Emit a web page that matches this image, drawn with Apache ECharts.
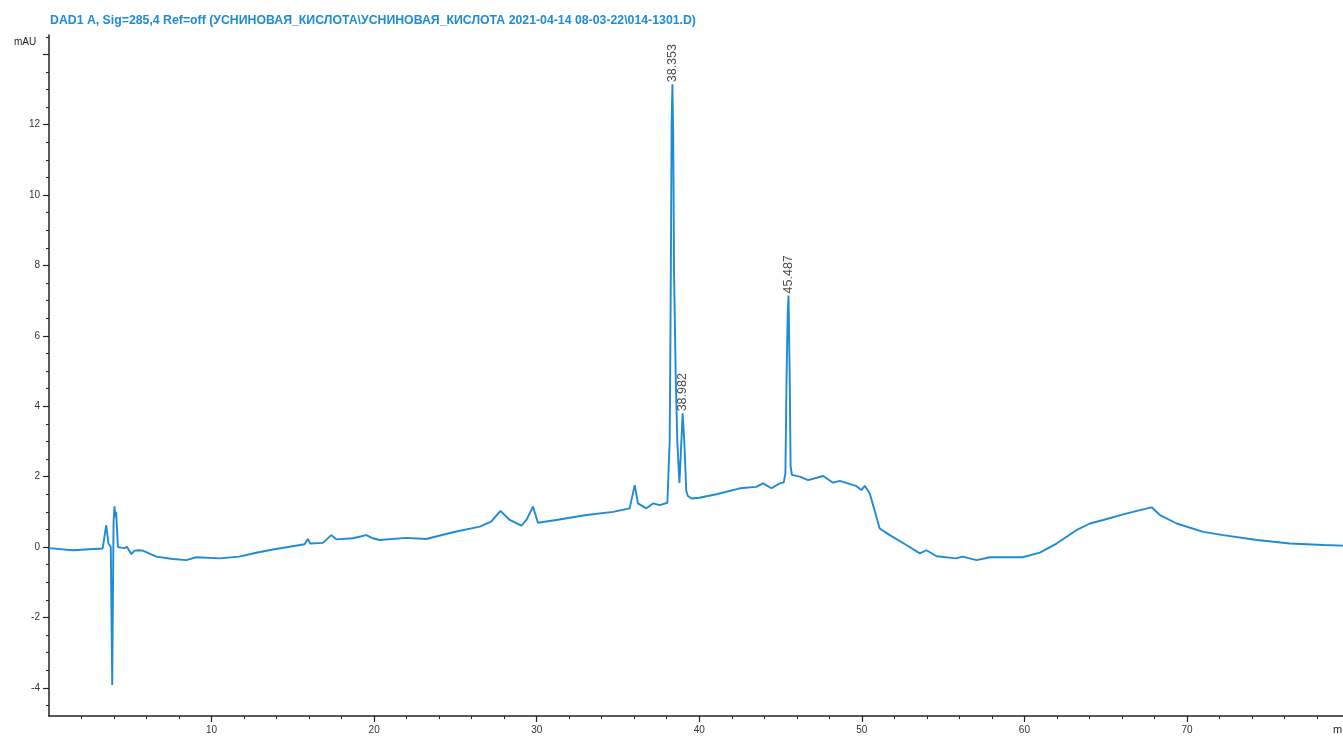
<!DOCTYPE html>
<html>
<head>
<meta charset="utf-8">
<script src="https://cdn.jsdelivr.net/npm/echarts@6/dist/echarts.min.js"></script>
<style>html,body{margin:0;padding:0;background:#fff;}#c{width:1343px;height:737px;}</style>
</head>
<body>
<div id="c"></div>
<script>
var titleText = 'DAD1 A, Sig=285,4 Ref=off (УСНИНОВАЯ_КИСЛОТА\\УСНИНОВАЯ_КИСЛОТА 2021-04-14 08-03-22\\014-1301.D)';
var yName = 'mAU';
var xName = 'min';

var times = [
  0.0, 1.46, 2.5, 3.3, 3.40, 3.52, 3.66, 3.80, 3.89, 3.97, 4.03, 4.08, 4.13, 4.24, 4.65, 4.79, 5.06, 5.26, 5.57, 5.77,
  6.6, 7.62, 8.44, 9.06, 10.5, 11.7, 12.75, 13.77, 14.8, 15.72, 15.93, 16.07, 16.85, 17.37, 17.67, 18.7,
  19.52, 19.93, 20.34, 21.98, 23.2, 24.85, 26.5, 27.2, 27.77, 28.34, 29.06, 29.37, 29.77, 30.08, 31.2,
  33.06, 34.7, 35.72, 36.03, 36.23, 36.75, 37.16, 37.57, 38.04, 38.12, 38.18, 38.22, 38.26, 38.30, 38.35,
  38.40, 38.45, 38.55, 38.65, 38.78, 38.88, 38.98, 39.08, 39.20, 39.30, 39.52, 40.0, 41.06, 42.5, 43.5,
  43.93, 44.44, 44.95, 45.20, 45.30, 45.37, 45.44, 45.49, 45.56, 45.62, 45.70, 45.77, 46.18, 46.7, 47.62,
  48.23, 48.65, 49.67, 49.98, 50.18, 50.49, 51.1, 51.72, 52.74, 53.57, 53.98, 54.6, 55.8, 56.2, 57.06,
  57.88, 58.5, 59.9, 60.95, 61.98, 63.2, 64.03, 64.85, 66.08, 67.1, 67.83, 68.34, 69.37, 71.0, 72.24,
  74.3, 76.34, 78.4, 79.6
];
var mau = [
  -0.03, -0.09, -0.06, -0.04, 0.0, 0.62, 0.1, 0.0, -3.92, 0.7, 1.16, 0.85, 1.0, 0.0, -0.03, 0.01, -0.2, -0.1, -0.09, -0.1,
  -0.27, -0.34, -0.37, -0.29, -0.32, -0.27, -0.16, -0.07, 0.01, 0.08, 0.23, 0.1, 0.12, 0.34, 0.22, 0.25,
  0.34, 0.25, 0.2, 0.26, 0.23, 0.42, 0.58, 0.72, 1.03, 0.77, 0.61, 0.77, 1.15, 0.69, 0.77,
  0.91, 1.0, 1.1, 1.76, 1.24, 1.1, 1.24, 1.19, 1.26, 1.3, 3.0, 5.4, 8.5, 12.0, 13.15,
  11.6, 7.8, 4.9, 3.0, 1.82, 2.8, 3.8, 3.0, 1.6, 1.45, 1.38, 1.4, 1.5, 1.67, 1.71,
  1.81, 1.67, 1.81, 1.84, 2.1, 4.8, 6.6, 7.15, 5.0, 2.3, 2.05, 2.02, 2.0, 1.9, 2.02,
  1.83, 1.88, 1.73, 1.62, 1.74, 1.52, 0.53, 0.34, 0.06, -0.18, -0.09, -0.26, -0.32, -0.27, -0.37,
  -0.29, -0.29, -0.29, -0.16, 0.1, 0.48, 0.67, 0.77, 0.93, 1.05, 1.13, 0.91, 0.67, 0.43, 0.34,
  0.2, 0.1, 0.06, 0.04
];

var peakTimes = [38.353, 38.982, 45.487];
var peakHeights = [13.15, 3.8, 7.15];
var peakLabels = ['38.353', '38.982', '45.487'];

var xMajorTicks = [10, 20, 30, 40, 50, 60, 70];
var xMinorTicks = [2, 4, 6, 8, 12, 14, 16, 18, 22, 24, 26, 28, 32, 34, 36, 38, 42, 44, 46, 48, 52, 54, 56, 58, 62, 64, 66, 68, 72, 74, 76, 78];
var yMajorTicks = [-4, -2, 0, 2, 4, 6, 8, 10, 12, 14];
var yTickLabels = [-4, -2, 0, 2, 4, 6, 8, 10, 12];
var yMinorTicks = [-4.5, -3.5, -3, -2.5, -1.5, -1, -0.5, 0.5, 1, 1.5, 2.5, 3, 3.5, 4.5, 5, 5.5, 6.5, 7, 7.5, 8.5, 9, 9.5, 10.5, 11, 11.5, 12.5, 13, 13.5, 14.5];

var lineData = times.map(function (t, i) { return [t, mau[i]]; });
var peakData = peakTimes.map(function (t, i) { return { value: [t, peakHeights[i]], name: peakLabels[i] }; });

var axisColor = '#222';
var chart = echarts.init(document.getElementById('c'), null, { renderer: 'canvas' });
chart.setOption({
  animation: false,
  backgroundColor: '#ffffff',
  title: {
    text: titleText, left: 45, top: 10,
    textStyle: { fontSize: 12.3, color: '#1e8bd3', fontWeight: 'bold', fontFamily: 'Liberation Sans' }
  },
  graphic: [
    { type: 'text', left: 14, top: 37, style: { text: yName, fontSize: 10, fill: '#222', fontFamily: 'Liberation Sans' } },
    { type: 'text', left: 1333, top: 724, style: { text: xName, fontSize: 11, fill: '#222', fontFamily: 'Liberation Sans' } }
  ],
  grid: { left: 49, right: 0, top: 35, bottom: 21, containLabel: false },
  xAxis: [
    {
      type: 'value', min: 0, max: 79.6, position: 'bottom',
      axisLine: { show: true, onZero: false, lineStyle: { color: axisColor, width: 1.5 } },
      axisTick: { show: true, customValues: xMajorTicks, length: 6, lineStyle: { color: axisColor, width: 1.2 } },
      axisLabel: { show: true, customValues: xMajorTicks, color: '#333', fontSize: 10, margin: 9, fontFamily: 'Liberation Sans' },
      splitLine: { show: false }
    },
    {
      type: 'value', min: 0, max: 79.6, position: 'bottom',
      axisLine: { show: false, onZero: false },
      axisTick: { show: true, customValues: xMinorTicks, length: 3, lineStyle: { color: axisColor, width: 1 } },
      axisLabel: { show: false },
      splitLine: { show: false }
    }
  ],
  yAxis: [
    {
      type: 'value', min: -4.8, max: 14.55, position: 'left',
      axisLine: { show: true, onZero: false, lineStyle: { color: axisColor, width: 1.5 } },
      axisTick: { show: true, customValues: yMajorTicks, length: 6, lineStyle: { color: axisColor, width: 1.2 } },
      axisLabel: { show: true, customValues: yTickLabels, color: '#333', fontSize: 10, margin: 9, fontFamily: 'Liberation Sans' },
      splitLine: { show: false }
    },
    {
      type: 'value', min: -4.8, max: 14.55, position: 'left',
      axisLine: { show: false, onZero: false },
      axisTick: { show: true, customValues: yMinorTicks, length: 3, lineStyle: { color: axisColor, width: 1 } },
      axisLabel: { show: false },
      splitLine: { show: false }
    }
  ],
  series: [
    {
      type: 'line', xAxisIndex: 0, yAxisIndex: 0, data: lineData,
      showSymbol: false, symbol: 'none',
      lineStyle: { color: '#1e8bd3', width: 1.9 },
      z: 3
    },
    {
      type: 'scatter', xAxisIndex: 0, yAxisIndex: 0, data: peakData,
      symbolSize: 0, silent: true,
      label: {
        show: true, position: 'top', rotate: 90, align: 'left', verticalAlign: 'middle', distance: 2,
        formatter: function (p) { return p.name; },
        color: '#1a1a1a', fontSize: 12.5, fontFamily: 'Liberation Sans'
      },
      z: 4
    }
  ]
});
</script>
</body>
</html>
